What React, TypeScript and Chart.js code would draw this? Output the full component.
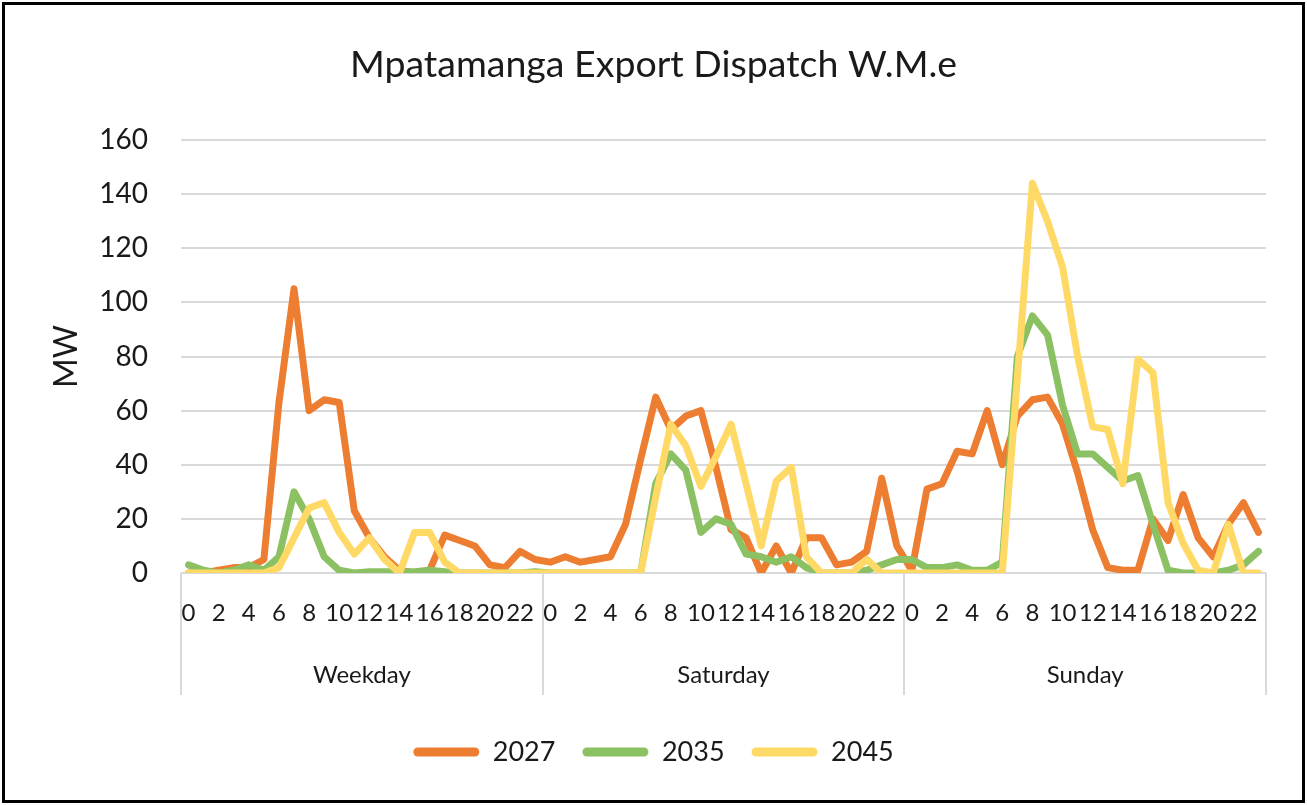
import React, { useEffect, useRef } from "react";
import { Chart, registerables } from "chart.js";

Chart.register(...registerables);

// ---- data ----
const hours = ["0","1","2","3","4","5","6","7","8","9","10","11","12","13","14","15","16","17","18","19","20","21","22","23"];
const dayGroups = ["Weekday", "Saturday", "Sunday"];
const seriesNames = ["2027", "2035", "2045"];
const seriesColors = ["#ED7D31", "#8BC163", "#FFD966"];

const weekday2027 = [0, 0, 1, 2, 2, 5, 63, 105, 60, 64, 63, 23, 13, 6, 1, 0, 1, 14, 12, 10, 3, 2, 8, 5];
const saturday2027 = [4, 6, 4, 5, 6, 18, 42, 65, 53, 58, 60, 39, 16, 13, 0, 10, 0, 13, 13, 3, 4, 8, 35, 10];
const sunday2027 = [1, 31, 33, 45, 44, 60, 40, 58, 64, 65, 55, 37, 16, 2, 1, 1, 20, 12, 29, 13, 6, 18, 26, 15];

const weekday2035 = [3, 1, 0, 1, 3, 1, 6, 30, 20, 6, 1, 0, 0.5, 0.5, 0.5, 0.5, 1, 0.5, 0, 0, 0, 0, 0, 0.5];
const saturday2035 = [0, 0, 0, 0, 0, 0, 0, 33, 44, 38, 15, 20, 18, 7, 6, 4, 6, 2, 0, 0, 0, 1, 3, 5];
const sunday2035 = [5, 2, 2, 3, 1, 1, 4, 80, 95, 88, 62, 44, 44, 39, 34, 36, 18, 1, 0, 0, 0, 1, 3, 8];

const weekday2045 = [0, 0, 0, 0, 0, 0, 2, 13, 24, 26, 15, 7, 13, 5, 0, 15, 15, 4, 0, 0, 0, 0, 0, 0];
const saturday2045 = [0, 0, 0, 0, 0, 0, 0, 28, 55, 47, 32, 43, 55, 33, 10, 34, 39, 6, 0, 0, 0, 5, 0, 0];
const sunday2045 = [0, 0, 0, 0, 0, 0, 0, 72, 144, 130, 113, 80, 54, 53, 33, 79, 74, 26, 11, 1, 0, 18, 0, 0];

const yMin = 0;
const yMax = 160;
const yStep = 20;

const titleText = "Mpatamanga Export Dispatch W.M.e";
const yTitle = "MW";

const FONT = "Lato";
const TEXT = "#1a1a1a";
const GRID = "#D9D9D9";

const groupSeparators = {
  id: "groupSeparators",
  afterDraw(chart: any) {
    const xs = chart.scales.x;
    const { ctx, chartArea } = chart;
    const n = dayGroups.length;
    ctx.save();
    ctx.strokeStyle = GRID;
    ctx.lineWidth = 2;
    for (let k = 0; k <= n; k++) {
      const px = Math.round(xs.left + ((xs.right - xs.left) * k) / n);
      ctx.beginPath();
      ctx.moveTo(px, chartArea.bottom);
      ctx.lineTo(px, chartArea.bottom + 122);
      ctx.stroke();
    }
    ctx.restore();
  },
};

export default function App() {
  const canvasRef = useRef<HTMLCanvasElement | null>(null);

  useEffect(() => {
    if (!canvasRef.current) return;
    const labels = dayGroups.flatMap(() => hours);
    const all = [
      [...weekday2027, ...saturday2027, ...sunday2027],
      [...weekday2035, ...saturday2035, ...sunday2035],
      [...weekday2045, ...saturday2045, ...sunday2045],
    ];
    Chart.defaults.font.family = FONT;
    Chart.defaults.color = TEXT;

    const chart = new Chart(canvasRef.current, {
      type: "line",
      data: {
        labels,
        datasets: seriesNames.map((name, i) => ({
          label: name,
          data: all[i],
          borderColor: seriesColors[i],
          backgroundColor: seriesColors[i],
          borderWidth: 7,
          pointRadius: 0,
          pointHoverRadius: 0,
          tension: 0,
          borderJoinStyle: "round",
          borderCapStyle: "round",
          fill: false,
          order: seriesNames.length - i,
          xAxisID: "x",
          yAxisID: "y",
        })),
      },
      options: {
        responsive: false,
        maintainAspectRatio: false,
        animation: false,
        devicePixelRatio: 1,
        layout: { padding: { left: 0, right: 0, top: 0, bottom: 29.5 } },
        plugins: {
          tooltip: { enabled: false },
          title: {
            display: true,
            text: titleText,
            font: { family: FONT, size: 37.5, weight: "normal" },
            color: TEXT,
            padding: { top: 42, bottom: 53 },
          },
          legend: {
            display: true,
            position: "bottom",
            labels: {
              font: { family: FONT, size: 27 },
              color: TEXT,
              boxWidth: 66,
              boxHeight: 9,
              padding: 27,
              useBorderRadius: true,
              borderRadius: 4.5,
              sort: (a: any, b: any) => a.datasetIndex - b.datasetIndex,
              generateLabels: (chart: any) =>
                Chart.defaults.plugins.legend.labels
                  .generateLabels(chart)
                  .map((l: any) => ({ ...l, lineWidth: 0 })),
            },
          },
        },
        scales: {
          x: {
            type: "category",
            position: "bottom",
            offset: true,
            grid: { display: false, drawTicks: false },
            border: { display: false },
            ticks: {
              autoSkip: false,
              maxRotation: 0,
              minRotation: 0,
              padding: 26,
              font: { family: FONT, size: 24 },
              color: TEXT,
              callback: function (this: any, value: any) {
                const lab = this.getLabelForValue(value);
                return Number(lab) % 2 === 0 ? lab : "";
              },
            },
            afterFit: (s: any) => {
              s.height = 70;
            },
          },
          x2: {
            type: "category",
            position: "bottom",
            labels: dayGroups,
            offset: true,
            grid: { display: false, drawTicks: false },
            border: { display: false },
            ticks: {
              autoSkip: false,
              maxRotation: 0,
              minRotation: 0,
              padding: 17.6,
              font: { family: FONT, size: 24 },
              color: TEXT,
            },
            afterFit: (s: any) => {
              s.height = 68.5;
            },
          },
          y: {
            type: "linear",
            position: "left",
            min: yMin,
            max: yMax,
            ticks: {
              stepSize: yStep,
              padding: 33,
              font: { family: FONT, size: 28 },
              color: TEXT,
            },
            grid: { color: GRID, lineWidth: 2, drawTicks: false },
            border: { display: false },
            title: {
              display: true,
              text: yTitle,
              font: { family: FONT, size: 32 },
              color: TEXT,
              padding: { top: 47, bottom: 0 },
            },
            afterFit: (s: any) => {
              s.width = 181;
            },
          },
          yR: {
            type: "linear",
            position: "right",
            display: true,
            ticks: { display: false },
            grid: { display: false, drawTicks: false },
            border: { display: false },
            afterFit: (s: any) => {
              s.width = 41;
            },
          },
        },
      },
      plugins: [groupSeparators],
    } as any);

    return () => chart.destroy();
  }, []);

  return (
    <div
      style={{
        position: "absolute",
        left: 0,
        top: 0,
        width: 1307,
        height: 805,
        background: "#ffffff",
        overflow: "hidden",
      }}
    >
      <canvas
        ref={canvasRef}
        width={1307}
        height={805}
        style={{ position: "absolute", left: 0, top: 0, width: 1307, height: 805, display: "block" }}
      />
      <div
        style={{
          position: "absolute",
          left: 2,
          top: 2,
          width: 1303,
          height: 801,
          border: "3px solid #000",
          boxSizing: "border-box",
          pointerEvents: "none",
        }}
      />
    </div>
  );
}
